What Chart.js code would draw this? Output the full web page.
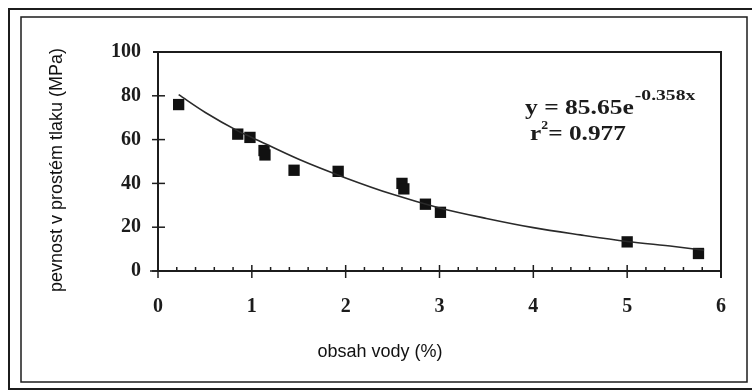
<!DOCTYPE html>
<html>
<head>
<meta charset="utf-8">
<script src="https://cdn.jsdelivr.net/npm/chart.js@4.4.1/dist/chart.umd.min.js"></script>
<style>
    html, body { margin: 0; padding: 0; background: #fff; }
    #wrap { width: 752px; height: 392px; }
</style>
</head>
<body>
<div id="wrap"><canvas id="chart" width="752" height="392"></canvas></div>
<script>
// measured points: water content (%) vs. compressive strength (MPa)
const waterContent = [0.22, 0.85, 0.98, 1.13, 1.14, 1.45, 1.92, 2.6, 2.62, 2.85, 3.01, 5.0, 5.76];
const strength = [76, 62.5, 61, 55, 53, 46, 45.5, 40, 37.5, 30.5, 26.8, 13.3, 8];

// trend line
const trendX = [0.22, 0.5, 0.85, 1.0, 1.5, 2.0, 2.5, 3.0, 3.5, 4.0, 4.5, 5.0, 5.5, 5.82];
const trendY = [80.5, 72.5, 64, 61, 51, 42.5, 35, 28.8, 24, 19.8, 16.5, 13.5, 11.2, 9.5];

const xTicks = [0, 1, 2, 3, 4, 5, 6];
const yTicks = [0, 20, 40, 60, 80, 100];

const xTitle = 'obsah vody (%)';
const yTitle = 'pevnost v prostém tlaku (MPa)';
const equation = ['y = 85.65e', '-0.358x'];
const rSquared = ['r', '2', '= 0.977'];

const ink = '#1c1c1c';
const serif = '"Liberation Serif", "Times New Roman", serif';
const sans = '"Liberation Sans", Arial, sans-serif';

// text squeezed/stretched sideways like the scanned original
function wideText(ctx, text, x, y, font, sx) {
    ctx.save();
    ctx.font = font;
    ctx.translate(x, y);
    ctx.scale(sx, 1);
    ctx.fillText(text, 0, 0);
    const w = ctx.measureText(text).width * sx;
    ctx.restore();
    return w;
}

const decorations = {
    id: 'decorations',
    afterDraw(chart) {
        const ctx = chart.ctx;
        const area = chart.chartArea;
        const x = chart.scales.x;
        const y = chart.scales.y;
        ctx.save();
        ctx.strokeStyle = ink;

        // double frame round the whole figure
        ctx.lineWidth = 2;
        ctx.strokeRect(9, 9, 760, 380);
        ctx.lineWidth = 1.5;
        ctx.strokeRect(21, 17, 726, 365);

        // top and right border of the plot
        ctx.lineWidth = 2;
        ctx.beginPath();
        ctx.moveTo(area.left - 5, area.top);
        ctx.lineTo(area.right, area.top);
        ctx.lineTo(area.right, area.bottom + 7);
        ctx.stroke();

        // y ticks cross the axis
        ctx.lineWidth = 1.5;
        yTicks.slice(0, -1).forEach((v) => {
            const py = y.getPixelForValue(v);
            ctx.beginPath();
            ctx.moveTo(area.left - 6, py);
            ctx.lineTo(area.left + 7, py);
            ctx.stroke();
        });

        // x ticks: major cross, minor point up
        for (let i = 0; i <= 30; i++) {
            const v = i / 5;
            const px = x.getPixelForValue(v);
            ctx.beginPath();
            if (i % 5 === 0) {
                ctx.moveTo(px, area.bottom - 6);
                ctx.lineTo(px, area.bottom + 7);
            } else {
                ctx.moveTo(px, area.bottom - 4);
                ctx.lineTo(px, area.bottom);
            }
            ctx.stroke();
        }
        ctx.beginPath();
        ctx.moveTo(area.left - 8, area.bottom);
        ctx.lineTo(area.left, area.bottom);
        ctx.stroke();

        // regression text
        ctx.fillStyle = ink;
        ctx.textBaseline = 'alphabetic';
        ctx.textAlign = 'left';
        let w = wideText(ctx, equation[0], 525, 114, 'bold 22px ' + serif, 1.16);
        wideText(ctx, equation[1], 525 + w + 1, 100, 'bold 14px ' + serif, 1.4);

        w = wideText(ctx, rSquared[0], 530, 140, 'bold 22px ' + serif, 1.15);
        wideText(ctx, rSquared[1], 530 + w, 129, 'bold 12px ' + serif, 1.15);
        wideText(ctx, rSquared[2], 530 + w + 7, 140, 'bold 22px ' + serif, 1.15);

        // axis titles
        ctx.font = '18px ' + sans;
        ctx.fillStyle = '#111';
        ctx.textAlign = 'center';
        ctx.textBaseline = 'middle';
        ctx.fillText(xTitle, 380, 352);
        ctx.translate(57, 170);
        ctx.rotate(-Math.PI / 2);
        ctx.fillText(yTitle, 0, 0);
        ctx.restore();
    }
};

function initChart() {
    const $canvas = document.getElementById('chart');
    const points = waterContent.map((v, i) => ({x: v, y: strength[i]}));
    const trend = trendX.map((v, i) => ({x: v, y: trendY[i]}));

    new Chart($canvas, {
        type: 'scatter',
        data: {
            datasets: [
                {
                    label: 'trend',
                    data: trend,
                    showLine: true,
                    borderColor: '#2a2a2a',
                    borderWidth: 1.6,
                    pointRadius: 0,
                    cubicInterpolationMode: 'monotone',
                    fill: false
                },
                {
                    label: 'měření',
                    data: points,
                    pointStyle: 'rect',
                    pointRadius: 8,
                    backgroundColor: '#111',
                    borderColor: '#111',
                    borderWidth: 0
                }
            ]
        },
        options: {
            responsive: false,
            animation: false,
            layout: {padding: {left: 22, right: 31, top: 52, bottom: 20}},
            plugins: {
                legend: {display: false},
                tooltip: {enabled: false}
            },
            scales: {
                x: {
                    type: 'linear',
                    min: 0,
                    max: 6,
                    afterBuildTicks: (s) => { s.ticks = xTicks.map((v) => ({value: v})); },
                    afterFit: (s) => { s.height = 101; },
                    ticks: {
                        color: ink,
                        font: {family: serif, size: 20, weight: 'bold'},
                        padding: 24
                    },
                    grid: {display: true, drawOnChartArea: false, drawTicks: false},
                    border: {display: true, color: ink, width: 2}
                },
                y: {
                    type: 'linear',
                    min: 0,
                    max: 100,
                    afterBuildTicks: (s) => { s.ticks = yTicks.map((v) => ({value: v})); },
                    afterFit: (s) => { s.width = 136; },
                    ticks: {
                        color: ink,
                        font: {family: serif, size: 20, weight: 'bold'},
                        padding: 17
                    },
                    grid: {display: true, drawOnChartArea: false, drawTicks: false},
                    border: {display: true, color: ink, width: 2}
                }
            }
        },
        plugins: [decorations]
    });
}

initChart();
</script>
</body>
</html>
